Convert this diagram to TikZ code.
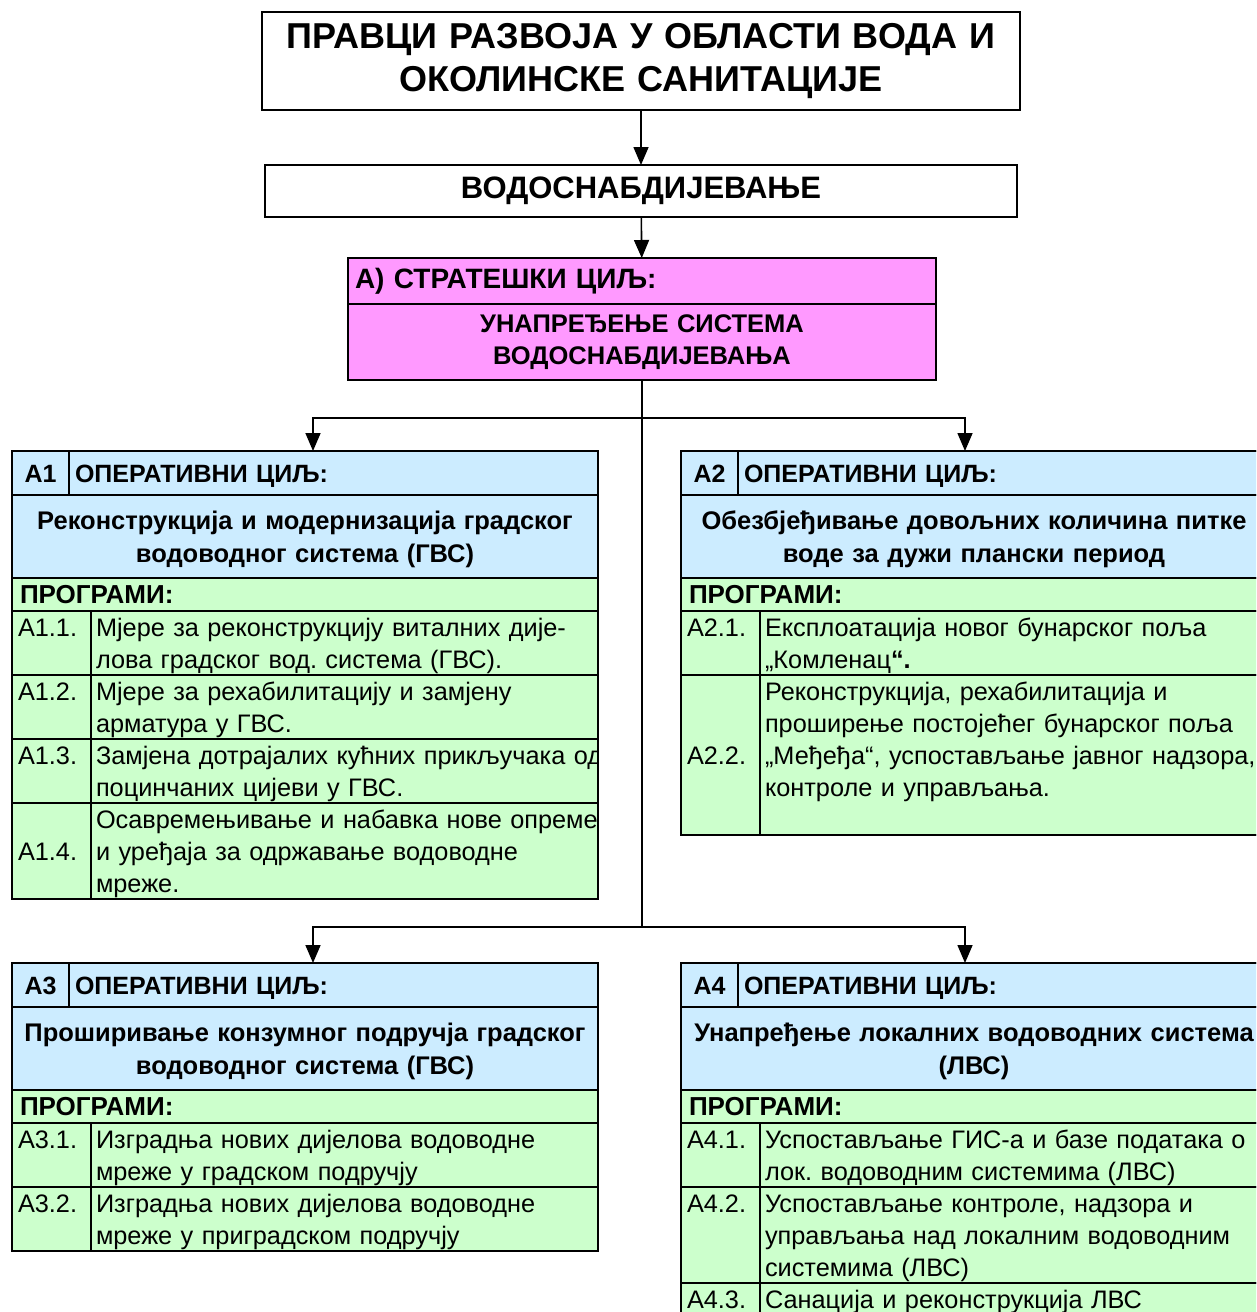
\documentclass[tikz,border=0pt]{standalone}
\usepackage{fontspec}
\setmainfont{Liberation Sans}
\usepackage{xcolor}
\usepackage{tikz}
\usetikzlibrary{positioning,arrows.meta}
\frenchspacing

\definecolor{goalblue}{RGB}{204,236,255}
\definecolor{proggreen}{RGB}{204,255,204}
\definecolor{stratpink}{RGB}{255,153,255}
\newcommand{\cellstrut}{\rule[-6.6pt]{0pt}{32pt}}

\begin{document}
\begin{tikzpicture}[
		x=1pt, y=-1pt, line width=1.2pt,
		cell/.style={rectangle, draw, anchor=north west, outer sep=0pt, inner ysep=0pt},
		strutted/.style={execute at begin node=\cellstrut, execute at end node=\cellstrut},
		titlebox/.style={cell, minimum width=758pt, minimum height=98pt, text width=740pt, inner xsep=9pt, align=center, font=\fontsize{36}{43}\selectfont\bfseries},
		supplybox/.style={cell, minimum width=752pt, minimum height=52pt, text width=740pt, inner xsep=6pt, align=center, font=\fontsize{31}{34}\selectfont\bfseries},
		stratcell/.style={cell, fill=stratpink, minimum width=588pt, text width=574pt, inner xsep=7pt},
		hdnum/.style={cell, strutted, fill=goalblue, minimum width=57pt, minimum height=44pt, text width=47pt, inner xsep=5pt, align=center, font=\fontsize{25}{32}\selectfont\bfseries},
		hdtxt/.style={cell, strutted, fill=goalblue, minimum width=529pt, minimum height=44pt, text width=517pt, inner xsep=6pt, align=left, font=\fontsize{25}{32}\selectfont\bfseries},
		desc/.style={cell, strutted, fill=goalblue, minimum width=586pt, minimum height=83pt, text width=576pt, inner xsep=5pt, align=center, font=\fontsize{25.5}{33}\selectfont\bfseries},
		prog/.style={cell, strutted, fill=proggreen, minimum width=586pt, minimum height=33pt, text width=570pt, inner xsep=8pt, align=left, font=\fontsize{26}{32}\selectfont\bfseries},
		num/.style={cell, strutted, fill=proggreen, minimum width=79pt, text width=67pt, inner xsep=6pt, align=left, font=\fontsize{25.3}{32}\selectfont},
		txt/.style={cell, strutted, fill=proggreen, minimum width=507pt, text width=497pt, inner xsep=5pt, align=left, font=\fontsize{25.3}{32}\selectfont},
		frame/.style={cell, fill=none, inner sep=0pt, minimum width=586pt},
		link/.style={-{Triangle[width=15pt,length=18pt]}, line width=1.6pt},
		branch/.style={-, line width=1.6pt},
		]
		\useasboundingbox (0,0) rectangle (1256,1312);
		\clip (0,0) rectangle (1256,1312);

		%Title
		\node[titlebox]	(title)	at (262,12)	{ПРАВЦИ РАЗВОЈА У ОБЛАСТИ ВОДА И\\ОКОЛИНСКЕ САНИТАЦИЈЕ};
		\node[supplybox]	(supply)	at (265,165)	{ВОДОСНАБДИЈЕВАЊЕ};

		%Strategic goal
		\node[stratcell, minimum height=46pt, align=left, font=\fontsize{28}{32}\selectfont\bfseries]	(stratHd)	at (348,258)	{А) СТРАТЕШКИ ЦИЉ:};
		\node[stratcell, minimum height=76pt, align=center, font=\fontsize{25.5}{32}\selectfont\bfseries]	(stratTx)	at (stratHd.south west)	{УНАПРЕЂЕЊЕ СИСТЕМА\\ВОДОСНАБДИЈЕВАЊА};

		%A1
		\begin{scope}
		\clip (11,450) rectangle (598,900);
		\node[hdnum]	(a1Num)	at (12,451)	{А1};
		\node[hdtxt]	(a1Hd)	at (a1Num.north east)	{ОПЕРАТИВНИ ЦИЉ:};
		\node[desc]	(a1Desc)	at (a1Num.south west)	{Реконструкција и модернизација градског\\водоводног система (ГВС)};
		\node[prog]	(a1Prog)	at (a1Desc.south west)	{ПРОГРАМИ:};
		\node[num, minimum height=64pt]	(a1p1n)	at (a1Prog.south west)	{А1.1.\\~};
		\node[txt, minimum height=64pt]	(a1p1)	at (a1p1n.north east)	{Мјере за реконструкцију виталних дије-\\лова градског вод. система (ГВС).};
		\node[num, minimum height=64pt]	(a1p2n)	at (a1p1n.south west)	{А1.2.\\~};
		\node[txt, minimum height=64pt]	(a1p2)	at (a1p2n.north east)	{Мјере за рехабилитацију и замјену\\арматура у ГВС.};
		\node[num, minimum height=64pt]	(a1p3n)	at (a1p2n.south west)	{А1.3.\\~};
		\node[txt, minimum height=64pt]	(a1p3)	at (a1p3n.north east)	{\mbox{Замјена дотрајалих кућних прикључака од}\\поцинчаних цијеви у ГВС.};
		\node[num, minimum height=96pt]	(a1p4n)	at (a1p3n.south west)	{~\\А1.4.\\~};
		\node[txt, minimum height=96pt]	(a1p4)	at (a1p4n.north east)	{\mbox{Осавремењивање и набавка нове опреме}\\и уређаја за одржавање водоводне\\мреже.};
		\end{scope}
		\node[frame, minimum height=448pt]	(a1)	at (12,451)	{};

		%A2
		\node[hdnum]	(a2Num)	at (681,451)	{А2};
		\node[hdtxt]	(a2Hd)	at (a2Num.north east)	{ОПЕРАТИВНИ ЦИЉ:};
		\node[desc]	(a2Desc)	at (a2Num.south west)	{Обезбјеђивање довољних количина питке\\воде за дужи плански период};
		\node[prog]	(a2Prog)	at (a2Desc.south west)	{ПРОГРАМИ:};
		\node[num, minimum height=64pt]	(a2p1n)	at (a2Prog.south west)	{А2.1.\\~};
		\node[txt, minimum height=64pt]	(a2p1)	at (a2p1n.north east)	{Експлоатација новог бунарског поља\\„Комленац\textbf{“.}};
		\node[num, minimum height=160pt]	(a2p2n)	at (a2p1n.south west)	{~\\~\\А2.2.\\~\\~};
		\node[txt, minimum height=160pt]	(a2p2)	at (a2p2n.north east)	{Реконструкција, рехабилитација и\\проширење постојећег бунарског поља\\\mbox{„Међеђа“, успостављање јавног надзора,}\\контроле и управљања.\\~};
		\node[frame, minimum height=384pt]	(a2)	at (681,451)	{};

		%A3
		\node[hdnum]	(a3Num)	at (12,963)	{А3};
		\node[hdtxt]	(a3Hd)	at (a3Num.north east)	{ОПЕРАТИВНИ ЦИЉ:};
		\node[desc]	(a3Desc)	at (a3Num.south west)	{Проширивање конзумног подручја градског\\водоводног система (ГВС)};
		\node[prog]	(a3Prog)	at (a3Desc.south west)	{ПРОГРАМИ:};
		\node[num, minimum height=64pt]	(a3p1n)	at (a3Prog.south west)	{А3.1.\\~};
		\node[txt, minimum height=64pt]	(a3p1)	at (a3p1n.north east)	{Изградња нових дијелова водоводне\\мреже у градском подручју};
		\node[num, minimum height=64pt]	(a3p2n)	at (a3p1n.south west)	{А3.2.\\~};
		\node[txt, minimum height=64pt]	(a3p2)	at (a3p2n.north east)	{Изградња нових дијелова водоводне\\мреже у приградском подручју};
		\node[frame, minimum height=288pt]	(a3)	at (12,963)	{};

		%A4
		\node[hdnum]	(a4Num)	at (681,963)	{А4};
		\node[hdtxt]	(a4Hd)	at (a4Num.north east)	{ОПЕРАТИВНИ ЦИЉ:};
		\node[desc]	(a4Desc)	at (a4Num.south west)	{\mbox{Унапређење локалних водоводних система}\\(ЛВС)};
		\node[prog]	(a4Prog)	at (a4Desc.south west)	{ПРОГРАМИ:};
		\node[num, minimum height=64pt]	(a4p1n)	at (a4Prog.south west)	{А4.1.\\~};
		\node[txt, minimum height=64pt]	(a4p1)	at (a4p1n.north east)	{Успостављање ГИС-а и базе података о\\лок. водоводним системима (ЛВС)};
		\node[num, minimum height=96pt]	(a4p2n)	at (a4p1n.south west)	{А4.2.\\~\\~};
		\node[txt, minimum height=96pt]	(a4p2)	at (a4p2n.north east)	{Успостављање контроле, надзора и\\управљања над локалним водоводним\\системима (ЛВС)};
		\node[num, minimum height=32pt]	(a4p3n)	at (a4p2n.south west)	{А4.3.};
		\node[txt, minimum height=32pt]	(a4p3)	at (a4p3n.north east)	{Санација и реконструкција ЛВС};
		\node[frame, minimum height=352pt]	(a4)	at (681,963)	{};

		%Connectors
		\draw[link]	(title)	--	(supply);
		\draw[link]	(supply)	--	(stratHd);
		\coordinate	(upper)	at (stratTx.south |- 0,418);
		\coordinate	(lower)	at (stratTx.south |- 0,927);
		\draw[branch]	(stratTx.south)	--	(lower);
		\draw[link]	(upper)	-|	([xshift=8pt]a1.north);
		\draw[link]	(upper)	-|	([xshift=-9pt]a2.north);
		\draw[link]	(lower)	-|	([xshift=8pt]a3.north);
		\draw[link]	(lower)	-|	([xshift=-9pt]a4.north);
	\end{tikzpicture}
\end{document}
